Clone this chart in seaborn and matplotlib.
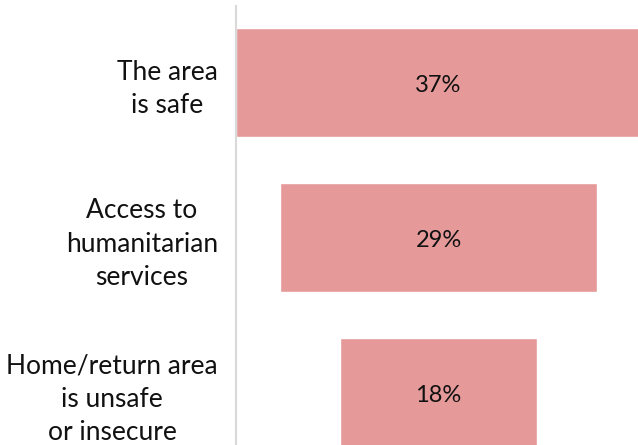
import pandas as pd
import seaborn as sns
import matplotlib.pyplot as plt

# Reasons (funnel-style horizontal bars, centred)
reasons = [
    "The area\nis safe",
    "Access to\nhumanitarian\nservices",
    "Home/return area\nis unsafe\nor insecure",
]
shares = [37, 29, 18]
value_labels = ["37%", "29%", "18%"]

df = pd.DataFrame({"reason": reasons, "share": shares})
# offset each bar so that all bars share the centre of the widest one
center = max(shares) / 2
df["left"] = center - df["share"] / 2

sns.set_style("white")
plt.rcParams["font.family"] = ["Lato", "DejaVu Sans"]

fig = plt.figure(figsize=(6.38, 4.45), dpi=100)
ax = fig.add_axes([236 / 638, 0, 1 - 236 / 638, 439 / 445])

sns.barplot(data=df, x="share", y="reason", orient="h", color="#E59999",
            saturation=1, width=0.70, left=df["left"].tolist(), ax=ax)

for i, (lft, v, lab) in enumerate(zip(df["left"], df["share"], value_labels)):
    ax.text(lft + v / 2, i + 0.02, lab, ha="center", va="center", fontsize=17, color="#111111")

ax.set_xlim(0, 402 / 10.95)
ax.set_ylim(2.339, -0.4935)
ax.set_xlabel("")
ax.set_ylabel("")
ax.set_xticks([])
ax.tick_params(axis="y", length=0, pad=13, labelsize=19)
for t in ax.get_yticklabels():
    t.set_multialignment("center")
    t.set_linespacing(1.42)
    t.set_color("#111111")

for s in ["top", "right", "bottom"]:
    ax.spines[s].set_visible(False)
ax.spines["left"].set_color("#D9D9D9")
ax.spines["left"].set_linewidth(1.5)

fig.savefig("out.png", dpi=100)
